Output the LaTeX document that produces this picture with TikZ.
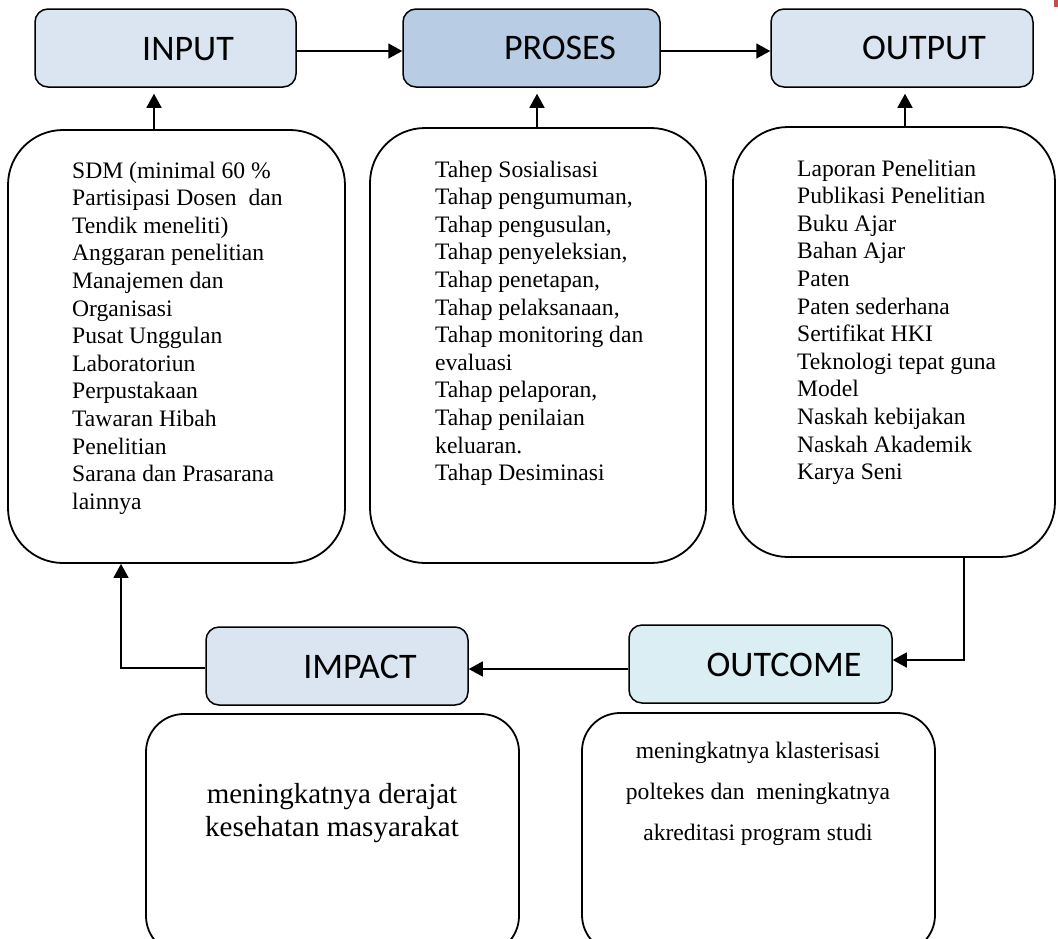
\documentclass[tikz,border=0pt]{standalone}
\usepackage{fontspec}
\setmainfont{Liberation Serif}
\newfontfamily\labelfont{Carlito}
\usetikzlibrary{arrows.meta,calc}
\definecolor{lblue}{HTML}{DBE5F1}
\definecolor{mblue}{HTML}{B8CCE4}
\definecolor{cblue}{HTML}{DAEEF3}
\definecolor{redmark}{HTML}{C0504D}
\tikzset{
  lbox/.style={draw=black, line width=1.5pt, rounded corners=13pt, inner sep=0pt},
  bigbox/.style={draw=black, line width=1.8pt, rounded corners=55pt, inner sep=0pt},
  botbox/.style={draw=black, line width=1.8pt, rounded corners=38pt, inner sep=0pt},
  lbl/.style={font=\labelfont\fontsize{36}{40}\selectfont, anchor=base, inner sep=0pt},
  body/.style={anchor=base west, inner sep=0pt, font=\fontsize{23.6}{27.6}\selectfont},
  arr/.style={line width=1.5pt, -{Triangle[length=14pt,width=15pt]}},
  ln/.style={line width=1.5pt}
}
\begin{document}
\begin{tikzpicture}[x=1pt,y=-1pt]
\useasboundingbox (0,0) rectangle (1058,938);
\fill[white] (0,0) rectangle (1058,938);
\fill[redmark] (1054,0) rectangle (1058,7);

% top label boxes
\node[lbox, fill=lblue, minimum width=261pt, minimum height=78pt] (input) at (165.5,48) {};
\node[lbox, fill=mblue, minimum width=257pt, minimum height=78pt] (proses) at (531.5,48) {};
\node[lbox, fill=lblue, minimum width=262pt, minimum height=78pt] (output) at (902,48) {};
\node[lbl] (tin) at (188,60) {INPUT};
\node[lbl] (tpr) at (560,59.5) {PROSES};
\node[lbl] (tout) at (924,59) {OUTPUT};

% big boxes
\node[bigbox, minimum width=337pt, minimum height=433pt] (inbig) at (176.5,346.5) {};
\node[bigbox, minimum width=336pt, minimum height=435pt] (prbig) at (538,345.5) {};
\node[bigbox, minimum width=322pt, minimum height=430pt] (outbig) at (894,342) {};

\node[body] (tinbig) at (72,178) {\begin{tabular}[t]{@{}l@{}}
SDM (minimal 60 \%\\
Partisipasi Dosen\ \ dan\\
Tendik meneliti)\\
Anggaran penelitian\\
Manajemen dan\\
Organisasi\\
Pusat Unggulan\\
Laboratoriun\\
Perpustakaan\\
Tawaran Hibah\\
Penelitian\\
Sarana dan Prasarana\\
lainnya
\end{tabular}};

\node[body] (tprbig) at (435,177) {\begin{tabular}[t]{@{}l@{}}
Tahep Sosialisasi\\
Tahap pengumuman,\\
Tahap pengusulan,\\
Tahap penyeleksian,\\
Tahap penetapan,\\
Tahap pelaksanaan,\\
Tahap monitoring dan\\
evaluasi\\
Tahap pelaporan,\\
Tahap penilaian\\
keluaran.\\
Tahap Desiminasi
\end{tabular}};

\node[body] (toutbig) at (797,176) {\begin{tabular}[t]{@{}l@{}}
Laporan Penelitian\\
Publikasi Penelitian\\
Buku Ajar\\
Bahan Ajar\\
Paten\\
Paten sederhana\\
Sertifikat HKI\\
Teknologi tepat guna\\
Model\\
Naskah kebijakan\\
Naskah Akademik\\
Karya Seni
\end{tabular}};

% bottom label boxes
\node[lbox, fill=lblue, minimum width=262pt, minimum height=78pt] (impact) at (337,666) {};
\node[lbox, fill=cblue, minimum width=263pt, minimum height=78pt] (outcome) at (760.5,664) {};
\node[lbl] (timp) at (360,678) {IMPACT};
\node[lbl] (tout2) at (784,676) {OUTCOME};

% bottom big boxes
\node[botbox, minimum width=373pt, minimum height=240pt] (impbig) at (332.5,834) {};
\node[botbox, minimum width=353pt, minimum height=240pt] (outcbig) at (758.5,833) {};

\node[anchor=base, inner sep=0pt, font=\fontsize{29}{33.3}\selectfont] (timpbig) at (332,803) {\begin{tabular}[t]{@{}c@{}}
meningkatnya derajat\\
kesehatan masyarakat
\end{tabular}};

\node[anchor=base, inner sep=0pt, font=\fontsize{23.6}{41}\selectfont] (toutcbig) at (758,758) {\begin{tabular}[t]{@{}c@{}}
meningkatnya klasterisasi\\
poltekes dan\ \ meningkatnya\\
akreditasi program studi
\end{tabular}};

% connectors
\draw[arr] ([yshift=-3pt]input.east) -- ([yshift=-3pt]proses.west);
\draw[arr] ([yshift=-3pt]proses.east) -- ([yshift=-3pt]output.west);
\draw[arr, shorten >=6pt] (inbig.north -| 154,0) -- (input.south -| 154,0);
\draw[arr, shorten >=6pt] (prbig.north -| 537,0) -- (proses.south -| 537,0);
\draw[arr, shorten >=6pt] (outbig.north -| 905,0) -- (output.south -| 905,0);
\draw[arr] (outbig.south -| 964,0) -- (964,660) -- (outcome.east |- 0,660);
\draw[arr] (outcome.west |- 0,669) -- (impact.east |- 0,669);
\draw[arr] (impact.west |- 0,668) -- (121,668) -- (inbig.south -| 121,0);
\end{tikzpicture}
\end{document}
